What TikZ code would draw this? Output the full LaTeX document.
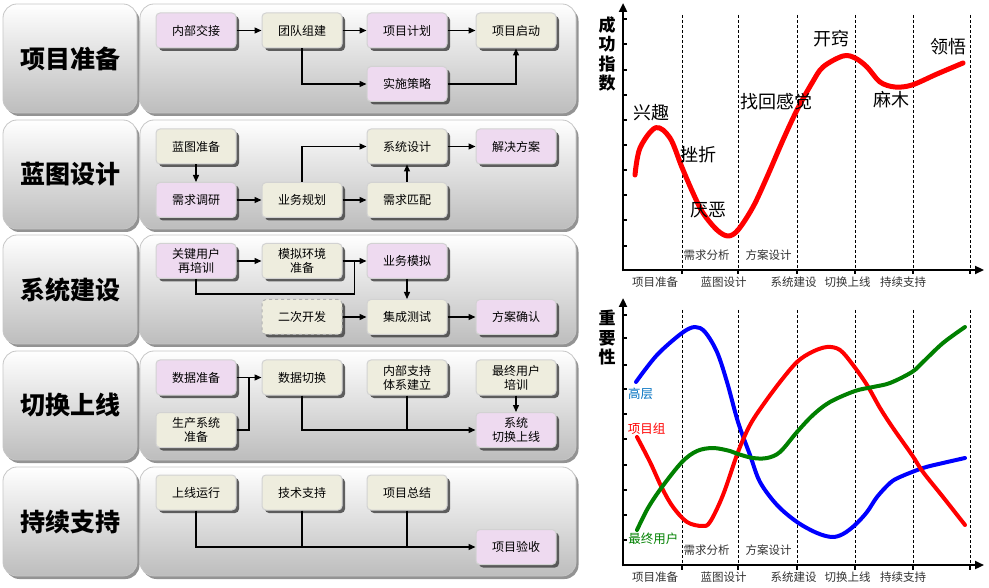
\documentclass[tikz,border=0pt]{standalone}
\usepackage{fontspec}
\setmainfont{Noto Sans CJK SC}
\usetikzlibrary{arrows.meta,shadows,calc}
\definecolor{pinkc}{RGB}{238,218,240}
\definecolor{beigec}{RGB}{238,237,222}
\definecolor{hiblue}{RGB}{0,112,192}
\definecolor{dgreen}{RGB}{0,128,0}
\definecolor{axgray}{RGB}{50,50,50}
\tikzset{
 panel/.style={draw=gray!45, line width=0.8pt, rounded corners=14pt, top color=white, bottom color=gray!52,
   minimum width=436pt, minimum height=109pt, inner sep=0pt,
   drop shadow={shadow xshift=2.5pt, shadow yshift=-3pt, fill=gray!85, opacity=1}},
 labelbox/.style={panel, minimum width=134pt, font=\fontsize{25}{28}\selectfont\bfseries},
 box/.style={rectangle, draw=gray!35, line width=1pt, rounded corners=4pt, minimum width=80pt, minimum height=35pt,
   inner sep=2pt, align=center, font=\fontsize{12}{14}\selectfont,
   drop shadow={shadow xshift=3pt, shadow yshift=-3pt, fill=gray!55!black, opacity=0.85}},
 pinkbox/.style={box, fill=pinkc},
 beigebox/.style={box, fill=beigec},
 arr/.style={line width=1.3pt, -{Triangle[length=7pt,width=6pt]}},
 ln/.style={line width=1.3pt},
 axis/.style={line width=2.6pt, -{Triangle[length=9pt,width=8pt]}},
 tick/.style={line width=1.2pt},
 vdash/.style={line width=0.8pt, dash pattern=on 3pt off 2pt},
 xlab/.style={font=\fontsize{11.5}{13}\selectfont, text=axgray, inner sep=0pt},
 ylab/.style={font=\fontsize{17}{19.5}\selectfont\bfseries, align=center, inner sep=0pt},
 clab/.style={font=\fontsize{18}{20}\selectfont, inner sep=0pt},
 llab/.style={font=\fontsize{12.5}{14}\selectfont, inner sep=0pt},
 curve/.style={line width=4pt, line cap=round, line join=round},
}
\begin{document}
\begin{tikzpicture}[x=1pt,y=-1pt]
\useasboundingbox (0,0) rectangle (989,588);

% ---------------- row panels ----------------
\foreach \t/\lab [count=\i] in {4/项目准备,120/蓝图设计,235/系统建设,351/切换上线,467/持续支持}{
  \node[labelbox] (L\i) at (70,\t+54.5) {\lab};
  \node[panel] (P\i) at (358,\t+54.5) {};
}

% ---------------- row 1 ----------------
\node[pinkbox]  (a1) at (196,30.5) {内部交接};
\node[beigebox] (a2) at (302,30.5) {团队组建};
\node[pinkbox]  (a3) at (407,30.5) {项目计划};
\node[beigebox] (a4) at (516,30.5) {项目启动};
\node[pinkbox]  (a5) at (407,84) {实施策略};
\draw[arr] (a1) -- (a2);
\draw[arr] (a2) -- (a3);
\draw[arr] (a3) -- (a4);
\draw[arr] (a2.south) |- (a5.west);
\draw[arr] (a5.east) -| (a4.south);

% ---------------- row 2 ----------------
\node[beigebox] (b1) at (196,146.5) {蓝图准备};
\node[pinkbox]  (b2) at (196,200) {需求调研};
\node[beigebox] (b3) at (302,200) {业务规划};
\node[beigebox] (b4) at (407,200) {需求匹配};
\node[beigebox] (b5) at (407,146.5) {系统设计};
\node[pinkbox]  (b6) at (516,146.5) {解决方案};
\draw[arr] (b1) -- (b2);
\draw[arr] (b2) -- (b3);
\draw[arr] (b3) -- (b4);
\draw[arr] (b4) -- (b5);
\draw[arr] (b3.north) |- (b5.west);
\draw[arr] (b5) -- (b6);

% ---------------- row 3 ----------------
\node[pinkbox]  (c1) at (196,261) {关键用户\\再培训};
\node[beigebox] (c2) at (302,261) {模拟环境\\准备};
\node[pinkbox]  (c3) at (407,261) {业务模拟};
\node[beigebox, dashed, draw=gray!60] (c6) at (302,317) {二次开发};
\node[beigebox] (c7) at (407,317) {集成测试};
\node[pinkbox]  (c8) at (516,317) {方案确认};
\coordinate (cj) at ($(c2.east)!0.5!(c3.west)$);
\draw[arr] (c1) -- (c2);
\draw[arr] (c2) -- (c3);
\draw[ln] (c1.south) -- ++(0,15) -| (cj);
\draw[arr] (c3) -- (c7);
\draw[arr] (c6) -- (c7);
\draw[arr] (c7) -- (c8);

% ---------------- row 4 ----------------
\node[pinkbox]  (d1) at (196,377.5) {数据准备};
\node[beigebox] (d2) at (196,430) {生产系统\\准备};
\node[beigebox] (d3) at (302,377.5) {数据切换};
\node[beigebox] (d4) at (407,377.5) {内部支持\\体系建立};
\node[beigebox] (d5) at (516,377.5) {最终用户\\培训};
\node[pinkbox]  (d6) at (516,430) {系统\\切换上线};
\coordinate (dj) at ($(d1.east)!0.5!(d3.west)$);
\draw[arr] (d1) -- (d3);
\draw[ln] (d2.east) -| (dj);
\draw[arr] (d3.south) |- (d6.west);
\draw[ln] (d4.south) -- (d4.south |- d6.west);
\draw[arr] (d5) -- (d6);

% ---------------- row 5 ----------------
\node[beigebox] (e1) at (196,492.5) {上线运行};
\node[beigebox] (e2) at (302,492.5) {技术支持};
\node[beigebox] (e3) at (407,492.5) {项目总结};
\node[pinkbox]  (e4) at (516,547) {项目验收};
\draw[arr] (e1.south) |- (e4.west);
\draw[ln] (e2.south) -- (e2.south |- e4.west);
\draw[ln] (e3.south) -- (e3.south |- e4.west);

% ---------------- chart 1 ----------------
\foreach \x in {682,738,797,855,913,970}{
  \draw[vdash] (\x,15) -- (\x,270);
  \draw[tick] (\x,270) -- (\x,274.5);
}
\foreach \y in {19,44,70,95,120,145,170,195,220,246}{
  \draw[tick] (623,\y) -- (627,\y);
}
\draw[axis] (621.7,270) -- (984,270);
\draw[axis] (623,271.3) -- (623,3);
\node[ylab] (y1) at (607,54) {成\\功\\指\\数};
\node[xlab] (x11) at (655,282) {项目准备};
\node[xlab] (x12) at (723.5,282) {蓝图设计};
\node[xlab] (x13) at (793.5,282) {系统建设};
\node[xlab] (x14) at (847.5,282) {切换上线};
\node[xlab] (x15) at (903,282) {持续支持};
\node[xlab] (s11) at (706.5,255) {需求分析};
\node[xlab] (s12) at (768.5,255) {方案设计};
\draw[curve, red, line width=5pt] plot[smooth, tension=0.55] coordinates {
 (635,175) (640,148) (655.7,127.7) (670,138) (681.7,166.7) (693,193) (703,213) (717,230) (728,236)
 (738,230) (753,207) (767,177) (783,140) (797,110) (812,83) (823,67) (843,56) (855,58) (867,67)
 (880,82) (895,87) (912,85) (937,74) (963,63)};
\node[clab] (k1) at (651.7,113) {兴趣};
\node[clab] (k2) at (698.3,155) {挫折};
\node[clab] (k3) at (708.3,210) {厌恶};
\node[clab] (k4) at (776.7,101.7) {找回感觉};
\node[clab] (k5) at (831.7,38.3) {开窍};
\node[clab] (k6) at (891.7,100) {麻木};
\node[clab] (k7) at (948.3,46.7) {领悟};

% ---------------- chart 2 ----------------
\foreach \x in {682,738,797,855,913,970}{
  \draw[vdash] (\x,310) -- (\x,565);
  \draw[tick] (\x,565) -- (\x,569.5);
}
\foreach \y in {315,338,365,389,414,439,465,490,515,540}{
  \draw[tick] (623,\y) -- (627,\y);
}
\draw[axis] (621.7,565) -- (984,565);
\draw[axis] (623,566.3) -- (623,298);
\node[ylab] (y2) at (607,338) {重\\要\\性};
\node[xlab] (x21) at (655,577) {项目准备};
\node[xlab] (x22) at (723.5,577) {蓝图设计};
\node[xlab] (x23) at (793.5,577) {系统建设};
\node[xlab] (x24) at (847.5,577) {切换上线};
\node[xlab] (x25) at (903,577) {持续支持};
\node[xlab] (s21) at (706.5,550) {需求分析};
\node[xlab] (s22) at (768.5,550) {方案设计};
\draw[curve, blue] plot[smooth, tension=0.55] coordinates {
 (636,382) (657,355) (682,333) (695,327) (705,332) (717,352) (727,382) (738,422) (750,455) (760,482)
 (777,505) (797,522) (817,533) (832,537) (843,534) (855,525) (867,512) (877,497) (890,483) (900,477)
 (923,468) (943,463) (965,458)};
\draw[curve, red] plot[smooth, tension=0.55] coordinates {
 (637,437) (650,462) (662,488) (673,507) (687,522) (702,526) (710,522) (723,495) (738,452) (750,425)
 (763,405) (780,382) (797,362) (812,352) (827,347) (840,350) (853,365) (867,385) (880,408) (893,428)
 (912,455) (923,472) (943,497) (965,525)};
\draw[curve, dgreen] plot[smooth, tension=0.55] coordinates {
 (637,530) (648,508) (662,487) (682,462) (697,451) (713,448) (730,451) (738,454) (753,458) (767,458)
 (780,452) (797,432) (813,415) (830,402) (855,391) (873,387) (890,383) (912,372) (923,362) (943,343)
 (965,327)};
\node[llab, text=hiblue] (g1) at (640.7,393.3) {高层};
\node[llab, text=red] (g2) at (646.7,428.3) {项目组};
\node[llab, text=dgreen] (g3) at (653.3,538.3) {最终用户};
\end{tikzpicture}
\end{document}
